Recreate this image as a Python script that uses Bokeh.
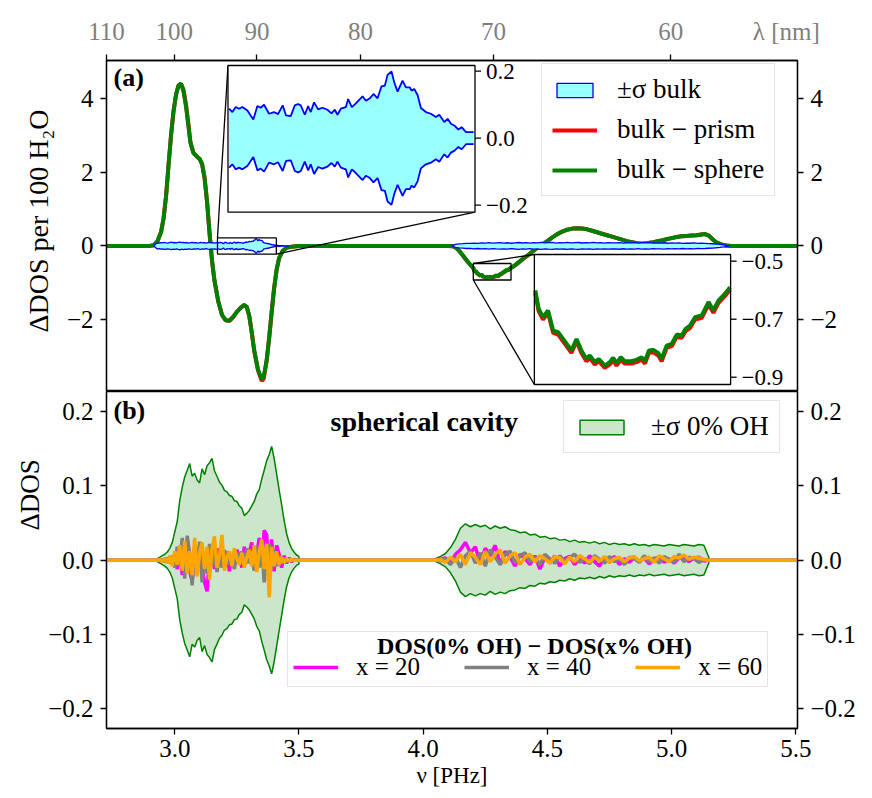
import numpy as np
from bokeh.plotting import figure
from bokeh.layouts import column
from bokeh.models import (Range1d, LinearAxis, FixedTicker, CustomJSTickFormatter,
                          Legend, LegendItem, Label, Title)
from bokeh.core.properties import value
from bokeh.embed import file_html
from bokeh.resources import INLINE

FONT = "Liberation Serif"
C_NM_PHZ = 299.792458

# ---------------- tick labels ----------------
lam_ticks = [110, 100, 90, 80, 70, 60]
nu_ticks = [3.0, 3.5, 4.0, 4.5, 5.0, 5.5]
ya_ticks = [-2, 0, 2, 4]
yb_ticks = [-0.2, -0.1, 0.0, 0.1, 0.2]
ins1_ticks = [-0.2, 0.0, 0.2]
ins1_labels = ["\u22120.2", "0.0", "0.2"]
ins2_ticks = [-0.9, -0.7, -0.5]
ins2_labels = ["\u22120.9", "\u22120.7", "\u22120.5"]

# ---------------- panel (a): bulk - cavity ----------------
nu_a = [2.70, 2.90, 2.915, 2.93, 2.945, 2.955, 2.965, 2.975, 2.985, 2.995,
        3.005, 3.015, 3.025, 3.035, 3.045, 3.055, 3.063, 3.075, 3.09, 3.10,
        3.11, 3.12, 3.13, 3.14, 3.15, 3.16, 3.175, 3.19, 3.205, 3.22,
        3.235, 3.25, 3.265, 3.28, 3.29, 3.30, 3.31, 3.32, 3.335, 3.35,
        3.358, 3.37, 3.38, 3.39, 3.40, 3.41, 3.42, 3.435, 3.45, 3.47, 3.50,
        4.10, 4.12, 4.135, 4.15, 4.165, 4.18, 4.19, 4.198,
        4.2025, 4.2051, 4.2085, 4.2124, 4.2163, 4.2202, 4.2240, 4.2305, 4.2344, 4.2382,
        4.2421, 4.2447, 4.2486, 4.2517, 4.2563, 4.2602, 4.2628, 4.2654, 4.2687, 4.2718,
        4.2770, 4.2809, 4.2848, 4.2874, 4.2905, 4.2939, 4.2978, 4.3003, 4.3042, 4.3081,
        4.3120, 4.3158, 4.3189, 4.3223, 4.3262, 4.3314, 4.3366, 4.3404, 4.3443, 4.3494, 4.3533,
        4.36, 4.37, 4.385, 4.40, 4.42, 4.44, 4.46, 4.48, 4.50, 4.52,
        4.54, 4.56, 4.58, 4.60, 4.62, 4.64, 4.66, 4.68, 4.70, 4.72,
        4.74, 4.76, 4.78, 4.80, 4.82, 4.84, 4.86, 4.88, 4.90, 4.92,
        4.94, 4.96, 4.98, 5.00, 5.02, 5.04, 5.06, 5.08, 5.10, 5.12,
        5.135, 5.15, 5.165, 5.18, 5.20, 5.22, 5.24, 5.55]

bulk_minus_sphere = [0.0, 0.0, 0.02, 0.12, 0.38, 0.75, 1.35, 2.2, 3.0, 3.65,
        4.1, 4.35, 4.40, 4.2, 3.8, 3.25, 2.8, 2.52, 2.42, 2.36,
        2.22, 1.85, 1.2, 0.35, -0.4, -0.95, -1.5, -1.87, -2.02, -2.03,
        -1.93, -1.79, -1.68, -1.6, -1.66, -1.9, -2.35, -2.85, -3.35, -3.62,
        -3.55, -3.1, -2.5, -1.8, -1.15, -0.65, -0.33, -0.13, -0.05, -0.02, 0.0,
        0.0, -0.01, -0.06, -0.17, -0.30, -0.43, -0.51, -0.57,
        -0.601, -0.664, -0.693, -0.670, -0.739, -0.745, -0.768, -0.808, -0.768, -0.808,
        -0.837, -0.825, -0.848, -0.837, -0.860, -0.848, -0.833, -0.852, -0.831, -0.845,
        -0.845, -0.840, -0.831, -0.845, -0.808, -0.806, -0.817, -0.837, -0.791, -0.785,
        -0.753, -0.756, -0.733, -0.722, -0.693, -0.687, -0.641, -0.670, -0.636, -0.612, -0.590,
        -0.57, -0.52, -0.44, -0.36, -0.26, -0.15, -0.05, 0.04, 0.13, 0.23,
        0.32, 0.39, 0.44, 0.47, 0.48, 0.47, 0.45, 0.41, 0.37, 0.33,
        0.29, 0.25, 0.21, 0.17, 0.13, 0.10, 0.07, 0.06, 0.07, 0.09,
        0.12, 0.15, 0.18, 0.21, 0.24, 0.26, 0.27, 0.28, 0.29, 0.31,
        0.32, 0.28, 0.18, 0.10, 0.04, 0.01, 0.0, 0.0]

bulk_minus_prism = [0.0, 0.0, 0.02, 0.12, 0.38, 0.75, 1.35, 2.2, 3.0, 3.65,
        4.1, 4.35, 4.40, 4.24, 3.84, 3.3, 2.82, 2.53, 2.42, 2.36,
        2.22, 1.85, 1.2, 0.35, -0.4, -0.95, -1.5, -1.87, -2.02, -2.03,
        -1.93, -1.79, -1.68, -1.6, -1.66, -1.9, -2.35, -2.85, -3.37, -3.66,
        -3.6, -3.12, -2.5, -1.8, -1.15, -0.65, -0.33, -0.13, -0.05, -0.02, 0.0,
        0.0, -0.01, -0.065, -0.175, -0.307, -0.438, -0.518, -0.578,
        -0.609, -0.672, -0.701, -0.678, -0.747, -0.753, -0.776, -0.816, -0.776, -0.816,
        -0.845, -0.833, -0.856, -0.845, -0.868, -0.856, -0.841, -0.860, -0.839, -0.853,
        -0.853, -0.848, -0.839, -0.853, -0.816, -0.814, -0.825, -0.845, -0.799, -0.793,
        -0.761, -0.764, -0.741, -0.730, -0.701, -0.695, -0.649, -0.678, -0.644, -0.620, -0.598,
        -0.578, -0.528, -0.447, -0.366, -0.265, -0.154, -0.05, 0.04, 0.13, 0.23,
        0.32, 0.39, 0.44, 0.47, 0.48, 0.47, 0.45, 0.41, 0.37, 0.33,
        0.29, 0.25, 0.21, 0.17, 0.13, 0.10, 0.07, 0.06, 0.07, 0.09,
        0.12, 0.15, 0.18, 0.21, 0.24, 0.26, 0.27, 0.28, 0.29, 0.31,
        0.32, 0.28, 0.18, 0.10, 0.04, 0.01, 0.0, 0.0]

# sigma of bulk (band is +/- sigma), low-frequency region
nu_sig_L = [2.915, 2.920, 2.925, 2.930, 2.937, 2.944, 2.951, 2.958, 2.965, 2.972,
            2.979, 2.986, 2.993, 3.000, 3.007, 3.014, 3.021, 3.028, 3.035, 3.042,
            3.049, 3.056, 3.063, 3.070, 3.077, 3.084, 3.091, 3.098, 3.105, 3.112,
            3.119, 3.126, 3.133, 3.140, 3.147, 3.154, 3.161, 3.168,
            3.1730, 3.1762, 3.1794, 3.1826, 3.1858, 3.1906, 3.1963, 3.2002, 3.2034, 3.2066,
            3.2114, 3.2162, 3.2200, 3.2245, 3.2277, 3.2322, 3.2361, 3.2393, 3.2418, 3.2457,
            3.2489, 3.2514, 3.2546, 3.2585, 3.2626, 3.2674, 3.2713, 3.2745, 3.2770, 3.2803,
            3.2851, 3.2873, 3.2908, 3.2947, 3.3011, 3.3043, 3.3081, 3.3116, 3.3155, 3.3193,
            3.3225, 3.3251, 3.3289, 3.3315, 3.3347, 3.3395, 3.3427, 3.3465, 3.3481, 3.3507,
            3.3539, 3.3571, 3.3619, 3.3667, 3.3715, 3.3747, 3.3795, 3.3827, 3.3859, 3.3891,
            3.3930, 3.3962, 3.4004, 3.4077,
            3.415, 3.422, 3.430, 3.440, 3.450, 3.460]
sig_bulk_L = [0.0, 0.03, 0.06, 0.08, 0.075, 0.09, 0.082, 0.095, 0.085, 0.078,
              0.09, 0.1, 0.086, 0.092, 0.08, 0.095, 0.105, 0.09, 0.098, 0.085,
              0.092, 0.078, 0.088, 0.096, 0.083, 0.09, 0.076, 0.085, 0.094, 0.082,
              0.09, 0.074, 0.086, 0.095, 0.08, 0.088, 0.078, 0.092,
              0.088, 0.078, 0.093, 0.088, 0.093, 0.083, 0.056, 0.096, 0.091, 0.100,
              0.073, 0.078, 0.072, 0.098, 0.068, 0.066, 0.098, 0.102, 0.098, 0.070,
              0.096, 0.078, 0.107, 0.086, 0.091, 0.085, 0.074, 0.085, 0.070, 0.088,
              0.093, 0.117, 0.093, 0.104, 0.125, 0.112, 0.119, 0.132, 0.119, 0.155,
              0.157, 0.189, 0.199, 0.167, 0.139, 0.172, 0.152, 0.152, 0.142, 0.147,
              0.129, 0.090, 0.078, 0.073, 0.063, 0.070, 0.048, 0.058, 0.043, 0.038,
              0.026, 0.033, 0.018, 0.018,
              0.014, 0.010, 0.007, 0.004, 0.002, 0.0]

nu_sig_R = [4.115, 4.130, 4.145, 4.160, 4.175, 4.190, 4.205, 4.220, 4.235, 4.250,
            4.265, 4.280, 4.295, 4.310, 4.325, 4.340, 4.355, 4.370, 4.385, 4.400,
            4.415, 4.430, 4.445, 4.460, 4.475, 4.490, 4.505, 4.520, 4.535, 4.550,
            4.565, 4.580, 4.595, 4.610, 4.625, 4.640, 4.655, 4.670, 4.685, 4.700,
            4.715, 4.730, 4.745, 4.760, 4.775, 4.790, 4.805, 4.820, 4.835, 4.850,
            4.865, 4.880, 4.895, 4.910, 4.925, 4.940, 4.955, 4.970, 4.985, 5.000,
            5.015, 5.030, 5.045, 5.060, 5.075, 5.090, 5.105, 5.120, 5.135, 5.150,
            5.165, 5.180, 5.195, 5.210, 5.225, 5.235]
sig_bulk_R = [0.0, 0.04, 0.055, 0.062, 0.07, 0.066, 0.078, 0.07, 0.082, 0.076,
              0.088, 0.074, 0.083, 0.09, 0.078, 0.086, 0.072, 0.084, 0.092, 0.079,
              0.088, 0.075, 0.09, 0.082, 0.094, 0.08, 0.087, 0.093, 0.078, 0.09,
              0.084, 0.095, 0.08, 0.088, 0.092, 0.079, 0.089, 0.083, 0.094, 0.081,
              0.088, 0.078, 0.09, 0.084, 0.08, 0.091, 0.077, 0.086, 0.082, 0.089,
              0.076, 0.085, 0.08, 0.088, 0.074, 0.083, 0.078, 0.086, 0.072, 0.08,
              0.076, 0.083, 0.07, 0.078, 0.072, 0.08, 0.068, 0.075, 0.07, 0.064,
              0.058, 0.05, 0.04, 0.026, 0.01, 0.0]

# ---------------- panel (b): spherical cavity ----------------
nu_b_L = [2.93, 2.94, 2.95, 2.96, 2.97, 2.98, 2.99, 3.00, 3.01, 3.02,
          3.03, 3.04, 3.05, 3.06, 3.07, 3.08, 3.09, 3.10, 3.11, 3.12,
          3.13, 3.14, 3.15, 3.16, 3.17, 3.18, 3.19, 3.20, 3.21, 3.22,
          3.23, 3.24, 3.25, 3.26, 3.27, 3.28, 3.29, 3.30, 3.31, 3.32,
          3.33, 3.34, 3.35, 3.36, 3.37, 3.38, 3.39, 3.40, 3.41, 3.42,
          3.43, 3.44, 3.45, 3.46, 3.47, 3.48, 3.49, 3.50]
nu_b_R = [4.05, 4.07, 4.09, 4.11, 4.13, 4.15, 4.17, 4.19, 4.21, 4.23,
          4.25, 4.27, 4.29, 4.31, 4.33, 4.35, 4.37, 4.39, 4.41, 4.43,
          4.45, 4.47, 4.49, 4.51, 4.53, 4.55, 4.57, 4.59, 4.61, 4.63,
          4.65, 4.67, 4.69, 4.71, 4.73, 4.75, 4.77, 4.79, 4.81, 4.83,
          4.85, 4.87, 4.89, 4.91, 4.93, 4.95, 4.97, 4.99, 5.01, 5.03,
          5.05, 5.07, 5.09, 5.11, 5.13, 5.15]

sig0_L = [0.002, 0.004, 0.006, 0.008, 0.011, 0.016, 0.024, 0.038, 0.052, 0.080,
          0.098, 0.112, 0.121, 0.130, 0.113, 0.117, 0.108, 0.104, 0.123, 0.115,
          0.127, 0.131, 0.137, 0.120, 0.113, 0.105, 0.101, 0.094, 0.092, 0.087,
          0.086, 0.080, 0.079, 0.073, 0.070, 0.060, 0.063, 0.067, 0.073, 0.079,
          0.089, 0.095, 0.109, 0.121, 0.134, 0.142, 0.153, 0.137, 0.116, 0.095,
          0.075, 0.054, 0.036, 0.024, 0.016, 0.011, 0.007, 0.005]
sig0_R = [0.002, 0.005, 0.009, 0.017, 0.028, 0.043, 0.049, 0.045, 0.048, 0.045,
          0.047, 0.042, 0.046, 0.043, 0.045, 0.041, 0.040, 0.037, 0.038, 0.034,
          0.035, 0.031, 0.032, 0.029, 0.030, 0.027, 0.028, 0.025, 0.027, 0.024,
          0.025, 0.023, 0.025, 0.022, 0.024, 0.021, 0.023, 0.021, 0.022, 0.020,
          0.022, 0.020, 0.021, 0.019, 0.021, 0.020, 0.019, 0.021, 0.020, 0.019,
          0.021, 0.020, 0.019, 0.021, 0.020, 0.004]

x20_L = [0.000, 0.001, -0.001, 0.002, -0.002, 0.004, -0.005, 0.008, -0.012, 0.015,
         -0.020, 0.010, 0.022, -0.015, -0.028, 0.012, -0.006, 0.018, -0.010, -0.030,
         -0.042, 0.005, 0.020, -0.012, 0.016, -0.008, 0.010, -0.004, 0.012, -0.015,
         0.008, -0.006, 0.014, 0.005, -0.010, 0.018, -0.004, 0.010, 0.024, -0.012,
         0.006, 0.030, -0.008, 0.040, 0.034, -0.020, 0.028, -0.015, 0.020, 0.008,
         -0.010, 0.006, -0.004, 0.003, -0.002, 0.001, 0.000, 0.000]
x40_L = [0.000, -0.001, 0.001, -0.002, 0.003, -0.004, 0.006, -0.010, 0.018, -0.008,
         0.030, -0.025, 0.033, 0.010, -0.034, 0.020, -0.012, 0.025, -0.030, 0.010,
         -0.018, 0.022, -0.008, 0.012, -0.016, 0.006, -0.010, 0.014, -0.006, 0.008,
         0.004, -0.012, 0.010, -0.005, 0.012, -0.008, 0.016, -0.004, 0.006, -0.014,
         0.020, -0.010, 0.018, -0.030, 0.010, 0.022, -0.012, 0.014, -0.008, 0.006,
         -0.004, 0.003, -0.002, 0.001, -0.001, 0.000, 0.000, 0.000]
x60_L = [0.000, 0.001, -0.002, 0.003, -0.004, 0.006, -0.008, 0.012, -0.006, 0.020,
         -0.014, 0.026, -0.018, 0.012, -0.020, 0.030, -0.022, 0.010, 0.024, -0.012,
         0.018, -0.026, 0.016, 0.032, -0.010, 0.006, 0.034, -0.014, 0.004, 0.012,
         -0.008, 0.016, 0.002, -0.006, 0.010, -0.010, 0.004, 0.014, -0.008, 0.020,
         -0.016, 0.010, 0.028, -0.012, 0.022, -0.050, 0.018, -0.008, 0.012, -0.006,
         0.004, -0.003, 0.002, -0.001, 0.001, 0.000, 0.000, 0.000]
x20_R = [0.000, 0.001, 0.003, -0.004, 0.008, 0.014, 0.024, 0.010, 0.018, -0.004,
         0.016, 0.006, 0.020, -0.006, 0.012, 0.004, -0.008, 0.008, 0.002, -0.006,
         0.006, -0.012, 0.004, -0.004, 0.006, -0.008, 0.002, 0.005, -0.006, 0.003,
         -0.004, 0.006, -0.002, -0.008, 0.004, -0.003, 0.005, -0.006, 0.002, -0.003,
         0.004, -0.002, 0.003, -0.005, 0.002, 0.004, -0.003, 0.002, -0.004, 0.003,
         0.005, -0.002, 0.003, 0.004, -0.001, 0.000]
x40_R = [0.000, -0.001, 0.002, -0.006, 0.004, -0.010, 0.006, 0.012, -0.004, 0.010,
         -0.008, 0.014, 0.004, -0.006, 0.008, 0.012, -0.004, 0.006, 0.010, -0.002,
         0.004, -0.006, 0.008, 0.002, -0.004, 0.006, -0.002, 0.004, 0.008, -0.003,
         0.002, -0.005, 0.006, 0.001, -0.004, 0.005, -0.002, 0.003, -0.006, 0.004,
         0.002, -0.003, 0.006, -0.002, 0.003, -0.004, 0.005, 0.001, -0.003, 0.008,
         -0.002, 0.004, 0.002, -0.003, 0.001, 0.000]
x60_R = [0.000, 0.001, -0.003, 0.004, -0.002, 0.008, -0.006, 0.010, 0.004, -0.006,
         0.012, -0.002, 0.008, 0.014, -0.004, 0.006, 0.010, -0.006, 0.004, 0.008,
         -0.002, 0.006, 0.002, -0.004, 0.005, 0.003, -0.005, 0.004, -0.002, 0.006,
         0.002, -0.003, 0.004, -0.001, 0.005, -0.003, 0.002, 0.004, -0.002, 0.003,
         0.005, -0.001, 0.002, 0.004, -0.003, 0.006, 0.002, -0.002, 0.005, 0.003,
         0.007, 0.001, 0.004, 0.003, 0.001, 0.000]

# ---------------- layout / style constants ----------------
X_RANGE = (2.7252, 5.507)
YA_RANGE = (-3.95, 5.03)
YB_RANGE = (-0.2265, 0.227)
LAM_LABEL_POS = 5.462   # where the "λ [nm]" caption sits on the top axis
INS1_SRC_X, INS1_SRC_Y = (3.172, 3.409), (-0.221, 0.217)
INS1_TGT_X, INS1_TGT_Y = (3.2143, 4.2087), (0.914, 4.894)
INS2_SRC_X, INS2_SRC_Y = (4.2018, 4.3537), (-0.925, -0.477)
INS2_TGT_X, INS2_TGT_Y = (4.4477, 5.2377), (-3.760, -0.233)

BLUE, CYAN = "#0000ff", "#99ffff"
GREEN, LGREEN = "#008000", "#cce6cc"
RED = "#ff0000"
GRAYTXT = "#7f7f7f"
TICK_PX = "25px"
LEG_PX = "27px"


def band(xs, s):
    return list(xs) + list(xs)[::-1], list(s) + [-v for v in s][::-1]


def style_axis(ax, color="black"):
    ax.major_tick_out = 6
    ax.major_tick_in = 0
    ax.minor_tick_out = 0
    ax.minor_tick_in = 0
    ax.major_tick_line_width = 1.3
    ax.axis_line_width = 1.3
    ax.major_label_text_font = FONT
    ax.major_label_text_font_size = TICK_PX
    ax.major_label_text_color = color
    ax.major_label_standoff = 7
    ax.axis_label_text_font = FONT
    ax.axis_label_text_font_style = "normal"
    ax.axis_label_text_color = "black"


fmt_int = CustomJSTickFormatter(code="return (tick < 0 ? '\u2212' : '') + Math.abs(tick).toFixed(0);")
fmt_1 = CustomJSTickFormatter(code="return (tick < -1e-9 ? '\u2212' : '') + Math.abs(tick).toFixed(1);")
fmt_lam = CustomJSTickFormatter(args=dict(c=C_NM_PHZ, pos=LAM_LABEL_POS),
                                code="if (Math.abs(tick - pos) < 1e-9) { return '\u03bb [nm]'; }"
                                     " return Math.round(c / tick).toFixed(0);")

xr = Range1d(*X_RANGE)

# =============== panel (a) ===============
pa = figure(width=872, height=391, x_range=xr, y_range=Range1d(*YA_RANGE),
            x_axis_location="above", output_backend="svg", toolbar_location=None,
            min_border_left=106, min_border_right=75, min_border_top=60, min_border_bottom=0)
pa.grid.visible = False
pa.outline_line_color = "black"
pa.outline_line_width = 1.3
pa.background_fill_color = "white"

lam_pos = [C_NM_PHZ / l for l in lam_ticks]
pa.xaxis.ticker = FixedTicker(ticks=lam_pos + [LAM_LABEL_POS], minor_ticks=lam_pos)
pa.xaxis.formatter = fmt_lam
style_axis(pa.xaxis[0], color=GRAYTXT)
pa.xaxis.major_tick_out = 0
pa.xaxis.minor_tick_out = 6
pa.xaxis.minor_tick_line_color = "black"
pa.xaxis.minor_tick_line_width = 1.3
pa.xaxis.major_label_standoff = 10
pa.yaxis.ticker = FixedTicker(ticks=ya_ticks)
pa.yaxis.formatter = fmt_int
style_axis(pa.yaxis[0])
pa.add_layout(Title(text="\u0394DOS per 100 H\u2082O", align="left", offset=59, text_font=FONT,
                    text_font_size="28px", text_font_style="normal", text_color="black",
                    standoff=20), "left")
ra = LinearAxis(ticker=FixedTicker(ticks=ya_ticks), formatter=fmt_int)
style_axis(ra)
pa.add_layout(ra, "right")

r_prism = pa.line(nu_a, bulk_minus_prism, line_color=RED, line_width=4)
r_sphere = pa.line(nu_a, bulk_minus_sphere, line_color=GREEN, line_width=4)
bx_L, by_L = band(nu_sig_L, sig_bulk_L)
bx_R, by_R = band(nu_sig_R, sig_bulk_R)
r_band = pa.patches([bx_L, bx_R], [by_L, by_R], fill_color=CYAN, line_color=BLUE, line_width=1.3)

# zoom boxes + connectors
for sx, sy in [(INS1_SRC_X, INS1_SRC_Y), (INS2_SRC_X, INS2_SRC_Y)]:
    pa.quad(left=sx[0], right=sx[1], bottom=sy[0], top=sy[1], fill_alpha=0,
            line_color="black", line_width=1.3)
pa.segment(x0=[INS1_SRC_X[0], INS1_SRC_X[1], INS2_SRC_X[0], INS2_SRC_X[0]],
           y0=[INS1_SRC_Y[1], INS1_SRC_Y[0], INS2_SRC_Y[1], INS2_SRC_Y[0]],
           x1=[INS1_TGT_X[0], INS1_TGT_X[1], INS2_TGT_X[0], INS2_TGT_X[0]],
           y1=[INS1_TGT_Y[1], INS1_TGT_Y[0], INS2_TGT_Y[1], INS2_TGT_Y[0]],
           line_color="black", line_width=1.3)

for tx, ty in [(INS1_TGT_X, INS1_TGT_Y), (INS2_TGT_X, INS2_TGT_Y)]:
    pa.quad(left=tx[0], right=tx[1], bottom=ty[0], top=ty[1], fill_color="white",
            line_alpha=0)

# inset 1 content
sub1 = pa.subplot(x_source=Range1d(*INS1_SRC_X), y_source=Range1d(*INS1_SRC_Y),
                  x_target=Range1d(*INS1_TGT_X), y_target=Range1d(*INS1_TGT_Y))
i1 = [i for i, v in enumerate(nu_sig_L) if INS1_SRC_X[0] <= v <= INS1_SRC_X[1]]
i1x = [nu_sig_L[i] for i in i1]
i1s = [sig_bulk_L[i] for i in i1]
i1n = [-v for v in i1s]
sub1.varea(x=i1x, y1=i1n, y2=i1s, fill_color=CYAN)
sub1.line(i1x, i1s, line_color=BLUE, line_width=1.8)
sub1.line(i1x, i1n, line_color=BLUE, line_width=1.8)

# inset 2 content
sub2 = pa.subplot(x_source=Range1d(*INS2_SRC_X), y_source=Range1d(*INS2_SRC_Y),
                  x_target=Range1d(*INS2_TGT_X), y_target=Range1d(*INS2_TGT_Y))
i2 = [i for i, v in enumerate(nu_a) if INS2_SRC_X[0] <= v <= INS2_SRC_X[1]]
sub2.line([nu_a[i] for i in i2], [bulk_minus_prism[i] for i in i2], line_color=RED, line_width=4)
sub2.line([nu_a[i] for i in i2], [bulk_minus_sphere[i] for i in i2], line_color=GREEN, line_width=4)

for tx, ty in [(INS1_TGT_X, INS1_TGT_Y), (INS2_TGT_X, INS2_TGT_Y)]:
    pa.quad(left=tx[0], right=tx[1], bottom=ty[0], top=ty[1], fill_alpha=0,
            line_color="black", line_width=1.3)
for sub, sx, ticks, labels in [(sub1, INS1_SRC_X, ins1_ticks, ins1_labels),
                               (sub2, INS2_SRC_X, ins2_ticks, ins2_labels)]:
    sub.ray(x=[sx[1]] * len(ticks), y=ticks, length=6, length_units="screen", angle=0,
            line_color="black", line_width=1.3)
    sub.text(x=[sx[1]] * len(ticks), y=ticks, text=labels, x_offset=11,
             text_baseline="middle", text_align="left", text_font=value(FONT),
             text_font_size="23px", text_color="black")

leg_a = Legend(items=[LegendItem(label="\u00b1\u03c3 bulk", renderers=[r_band]),
                      LegendItem(label="bulk \u2212 prism", renderers=[r_prism]),
                      LegendItem(label="bulk \u2212 sphere", renderers=[r_sphere])],
               location=(435, 195), label_text_font=FONT, label_text_font_size=LEG_PX,
               label_text_color="black",
               glyph_width=45, glyph_height=18, label_height=30, spacing=9, padding=10,
               label_standoff=20, border_line_color="#cccccc", border_line_width=1.5,
               background_fill_alpha=0.85, margin=0)
pa.add_layout(leg_a)

pa.add_layout(Label(x=7, y=314, x_units="screen", y_units="screen", text="(a)",
                    text_font=FONT, text_font_size="26px", text_font_style="bold",
                    text_color="black", text_baseline="middle"))

# =============== panel (b) ===============
pb = figure(width=872, height=407, x_range=xr, y_range=Range1d(*YB_RANGE),
            output_backend="svg", toolbar_location=None,
            min_border_left=106, min_border_right=75, min_border_top=0, min_border_bottom=70)
pb.grid.visible = False
pb.outline_line_color = "black"
pb.outline_line_width = 1.3

pb.xaxis.ticker = FixedTicker(ticks=nu_ticks)
pb.xaxis.formatter = fmt_1
style_axis(pb.xaxis[0])
pb.xaxis.major_label_standoff = 5
pb.xaxis.axis_label = "\u03bd [PHz]"
pb.xaxis.axis_label_text_font_size = "23px"
pb.xaxis.axis_label_standoff = 3
pb.yaxis.ticker = FixedTicker(ticks=yb_ticks)
pb.yaxis.formatter = fmt_1
style_axis(pb.yaxis[0])
pb.add_layout(Title(text="\u0394DOS", align="left", offset=198, text_font=FONT,
                    text_font_size="27px", text_font_style="normal", text_color="black",
                    standoff=2), "left")
rb = LinearAxis(ticker=FixedTicker(ticks=yb_ticks), formatter=fmt_1)
style_axis(rb)
pb.add_layout(rb, "right")

gx_L, gy_L = band(nu_b_L, sig0_L)
gx_R, gy_R = band(nu_b_R, sig0_R)
r_band0 = pb.patches([gx_L, gx_R], [gy_L, gy_R], fill_color=LGREEN, line_color=GREEN, line_width=1.5)

nu_b = [X_RANGE[0] - 0.05] + nu_b_L + nu_b_R + [X_RANGE[1] + 0.05]
r20 = pb.line(nu_b, [0.0] + x20_L + x20_R + [0.0], line_color="#ff00ff", line_width=3.5)
r40 = pb.line(nu_b, [0.0] + x40_L + x40_R + [0.0], line_color="#808080", line_width=3.5)
r60 = pb.line(nu_b, [0.0] + x60_L + x60_R + [0.0], line_color="#ffa500", line_width=3.5)

leg_b1 = Legend(items=[LegendItem(label="\u00b1\u03c3 0% OH", renderers=[r_band0])],
                location=(457, 275), label_text_font=FONT, label_text_font_size=LEG_PX,
                label_text_color="black",
                glyph_width=55, glyph_height=18, label_height=30, padding=10,
                label_standoff=22, border_line_color="#cccccc", border_line_width=1.5,
                background_fill_alpha=0.85, margin=0)
pb.add_layout(leg_b1)

# lower legend: an empty title row reserves space for the bold caption drawn as a Label
leg_b2 = Legend(items=[LegendItem(label="x = 20", renderers=[r20]),
                       LegendItem(label="x = 40", renderers=[r40]),
                       LegendItem(label="x = 60", renderers=[r60])],
                orientation="horizontal", title=" ", title_text_font_size="14px",
                title_standoff=0,
                location=(181, 41), label_text_font=FONT, label_text_font_size="25px",
                label_text_color="black",
                glyph_width=45, glyph_height=20, label_height=24, padding=5, spacing=44,
                label_standoff=18, border_line_color="#cccccc", border_line_width=1.5,
                background_fill_alpha=0.0, margin=0)
pb.add_layout(leg_b2)

pb.add_layout(Label(x=428, y=83, x_units="screen", y_units="screen",
                    text="DOS(0% OH) \u2212 DOS(x% OH)", text_font=FONT,
                    text_font_size="24px", text_font_style="bold", text_color="black",
                    text_align="center", text_baseline="middle", level="overlay"))
pb.add_layout(Label(x=224, y=307, x_units="screen", y_units="screen",
                    text="spherical cavity", text_font=FONT,
                    text_font_size="28px", text_font_style="bold", text_color="black",
                    text_baseline="middle"))
pb.add_layout(Label(x=7, y=318, x_units="screen", y_units="screen", text="(b)",
                    text_font=FONT, text_font_size="26px", text_font_style="bold",
                    text_color="black", text_baseline="middle"))

layout = column(pa, pb)
open("out.html", "w").write(file_html(layout, INLINE))
